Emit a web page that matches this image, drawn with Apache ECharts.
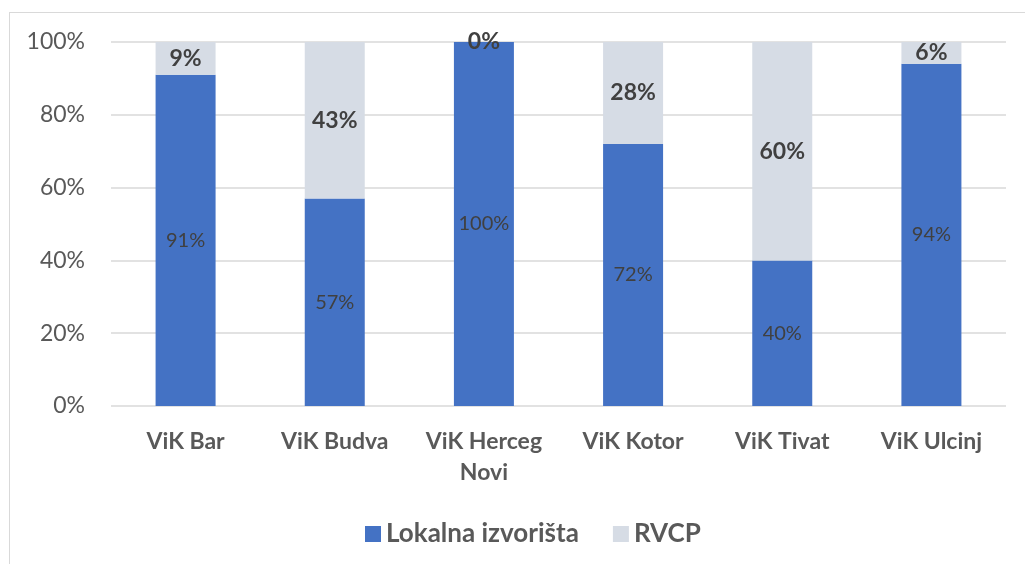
<!DOCTYPE html>
<html>
<head>
<meta charset="utf-8">
<script src="https://cdn.jsdelivr.net/npm/echarts@6/dist/echarts.min.js"></script>
<style>
  html, body { margin: 0; padding: 0; background: #fff; }
  #frame { position: absolute; left: 9px; top: 12px; width: 1100px; height: 600px; border: 1px solid #d9d9d9; box-sizing: border-box; }
  #chart { position: absolute; left: 0; top: 0; width: 1025px; height: 564px; }
</style>
</head>
<body>
<div id="frame"></div>
<div id="chart"></div>
<script>
// udio izvorišta po ViK preduzeću
const CATEGORIES = ['ViK Bar', 'ViK Budva', 'ViK Herceg\nNovi', 'ViK Kotor', 'ViK Tivat', 'ViK Ulcinj'];
const LOKALNA = [91, 57, 100, 72, 40, 94];
const RVCP = [9, 43, 0, 28, 60, 6];
const Y_TICKS = [0, 20, 40, 60, 80, 100];

const FONT = 'Lato, "Open Sans", sans-serif';

function initSourceChart() {
  const chart = echarts.init(document.getElementById('chart'));
  chart.setOption({
    animation: false,
    textStyle: { fontFamily: FONT },
    grid: { left: 111, right: 19, top: 42, bottom: 158 },
    legend: {
      left: 360,
      top: 516,
      itemWidth: 16,
      itemHeight: 16,
      itemGap: 34,
      icon: 'rect',
      textStyle: { fontSize: 26, fontWeight: 'bold', color: '#595959', fontFamily: FONT },
      data: ['Lokalna izvorišta', 'RVCP']
    },
    xAxis: {
      type: 'category',
      data: CATEGORIES,
      axisLine: { show: false },
      axisTick: { show: false },
      axisLabel: {
        fontSize: 23, fontWeight: 'bold', color: '#595959',
        lineHeight: 31, margin: 20, interval: 0, fontFamily: FONT
      }
    },
    yAxis: {
      type: 'value',
      min: Y_TICKS[0],
      max: Y_TICKS[Y_TICKS.length - 1],
      interval: 20,
      axisLine: { show: false },
      axisTick: { show: false },
      splitLine: { lineStyle: { color: '#d9d9d9', width: 1.5 } },
      axisLabel: { fontSize: 23, color: '#595959', margin: 26, formatter: '{value}%', fontFamily: FONT }
    },
    series: [{
      name: 'Lokalna izvorišta',
      type: 'bar',
      stack: 'total',
      barWidth: 60,
      data: LOKALNA,
      itemStyle: { color: '#4472C4' },
      label: {
        show: true, position: 'inside', formatter: '{c}%',
        fontSize: 20, color: '#404040', fontFamily: FONT
      }
    }, {
      name: 'RVCP',
      type: 'bar',
      stack: 'total',
      barWidth: 60,
      data: RVCP,
      itemStyle: { color: '#D6DCE5' },
      label: {
        show: true, position: 'inside', formatter: '{c}%',
        fontSize: 23, fontWeight: 'bold', color: '#404040', fontFamily: FONT
      }
    }]
  });
  window.addEventListener('resize', () => chart.resize());
}

initSourceChart();
</script>
</body>
</html>
